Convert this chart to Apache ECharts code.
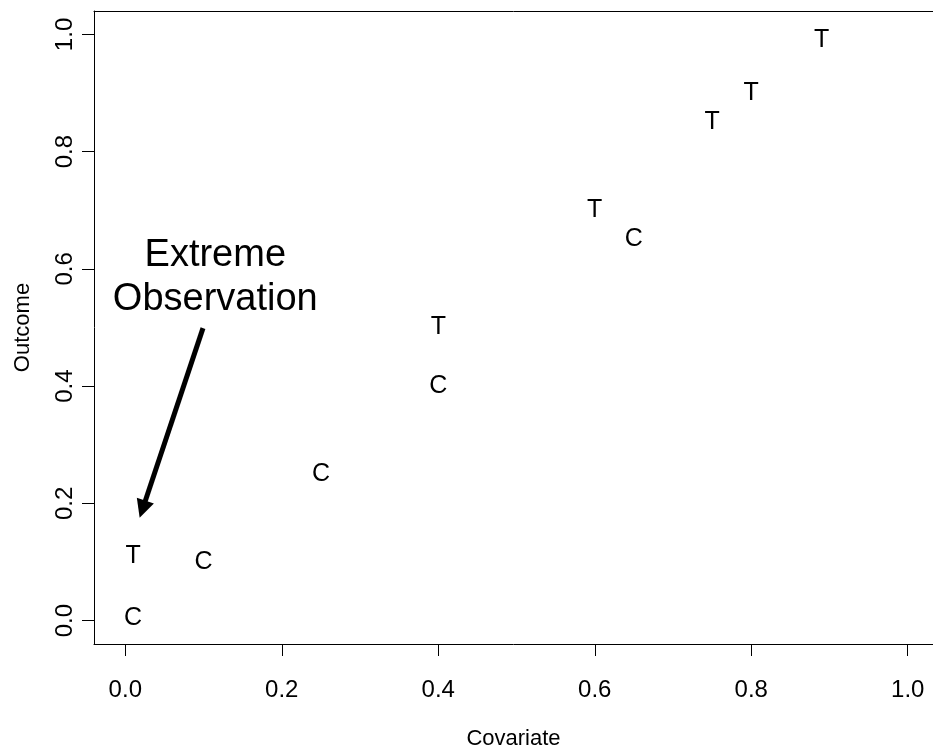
<!DOCTYPE html>
<html>
<head>
<meta charset="utf-8">
<script src="https://cdn.jsdelivr.net/npm/echarts@6/dist/echarts.min.js"></script>
<style>
  html, body { margin: 0; padding: 0; background: #fff; }
  #chart { width: 933px; height: 751px; }
</style>
</head>
<body>
<div id="chart"></div>
<script>
// data
var covariateC = [0.01, 0.10, 0.25, 0.40, 0.65];
var outcomeC   = [0.005, 0.10, 0.25, 0.40, 0.65];
var covariateT = [0.01, 0.40, 0.60, 0.75, 0.80, 0.89];
var outcomeT   = [0.11, 0.50, 0.70, 0.85, 0.90, 0.99];
var xTicks = [0, 0.2, 0.4, 0.6, 0.8, 1.0];
var yTicks = [0, 0.2, 0.4, 0.6, 0.8, 1.0];
// annotation: text spot and arrow (data coords)
var noteAt = [0.115, 0.585];
var arrowFrom = [0.0993, 0.499];
var arrowTo = [0.022, 0.19];

var FONT = "'Liberation Sans', Arial, sans-serif";
// the plot box runs past the right edge of the window, as in the original
var X_MIN = -0.04, X_MAX = 1.0323;

function pairs(xs, ys) {
  var out = [];
  for (var i = 0; i < xs.length; i++) out.push([xs[i], ys[i]]);
  return out;
}

function letterSeries(name, xs, ys, ch) {
  return {
    name: name,
    type: 'scatter',
    symbol: 'circle',
    symbolSize: 1,
    itemStyle: { color: 'rgba(0,0,0,0)', opacity: 1 },
    label: {
      show: true,
      position: 'inside',
      formatter: ch,
      color: '#000',
      fontFamily: FONT,
      fontSize: 25
    },
    data: pairs(xs, ys)
  };
}

var myChart = echarts.init(document.getElementById('chart'));
myChart.setOption({
  animation: false,
  backgroundColor: '#fff',
  grid: {
    left: 94,
    top: 11,
    width: 839,
    height: 633,
    show: false,
    containLabel: false,
    outerBoundsMode: 'none'
  },
  xAxis: [{
    type: 'value',
    min: X_MIN,
    max: X_MAX,
    name: 'Covariate',
    nameLocation: 'middle',
    nameGap: 84,
    nameTextStyle: { color: '#000', fontFamily: FONT, fontSize: 22 },
    axisLine: { show: true, onZero: false, lineStyle: { color: '#000', width: 1 } },
    splitLine: { show: false },
    axisTick: {
      show: true,
      inside: false,
      length: 12,
      customValues: xTicks,
      lineStyle: { color: '#000', width: 1 }
    },
    axisLabel: {
      customValues: xTicks,
      margin: 34,
      color: '#000',
      fontFamily: FONT,
      fontSize: 24,
      formatter: function (v) { return v.toFixed(1); }
    }
  }, {
    type: 'value',
    position: 'top',
    min: X_MIN,
    max: X_MAX,
    axisLine: { show: true, onZero: false, lineStyle: { color: '#000', width: 1 } },
    axisTick: { show: false },
    axisLabel: { show: false },
    splitLine: { show: false }
  }],
  yAxis: {
    type: 'value',
    min: -0.04,
    max: 1.04,
    name: 'Outcome',
    nameLocation: 'middle',
    nameGap: 60,
    nameTextStyle: { color: '#000', fontFamily: FONT, fontSize: 22 },
    axisLine: { show: true, onZero: false, lineStyle: { color: '#000', width: 1 } },
    splitLine: { show: false },
    axisTick: {
      show: true,
      inside: false,
      length: 12,
      customValues: yTicks,
      lineStyle: { color: '#000', width: 1 }
    },
    axisLabel: {
      customValues: yTicks,
      rotate: 90,
      margin: 17,
      color: '#000',
      fontFamily: FONT,
      fontSize: 24,
      formatter: function (v) { return v.toFixed(1); }
    }
  },
  series: [
    letterSeries('C', covariateC, outcomeC, 'C'),
    letterSeries('T', covariateT, outcomeT, 'T'),
    {
      name: 'note',
      type: 'scatter',
      symbol: 'circle',
      symbolSize: 1,
      itemStyle: { color: 'rgba(0,0,0,0)', opacity: 1 },
      label: {
        show: true,
        position: 'inside',
        formatter: 'Extreme\nObservation',
        color: '#000',
        fontFamily: FONT,
        fontSize: 38,
        lineHeight: 44,
        align: 'center'
      },
      data: [noteAt],
      markLine: {
        silent: true,
        animation: false,
        symbol: ['none', 'triangle'],
        symbolSize: 18,
        label: { show: false },
        lineStyle: { color: '#000', width: 5, type: 'solid' },
        data: [[{ coord: arrowFrom }, { coord: arrowTo }]]
      }
    }
  ]
});
</script>
</body>
</html>
